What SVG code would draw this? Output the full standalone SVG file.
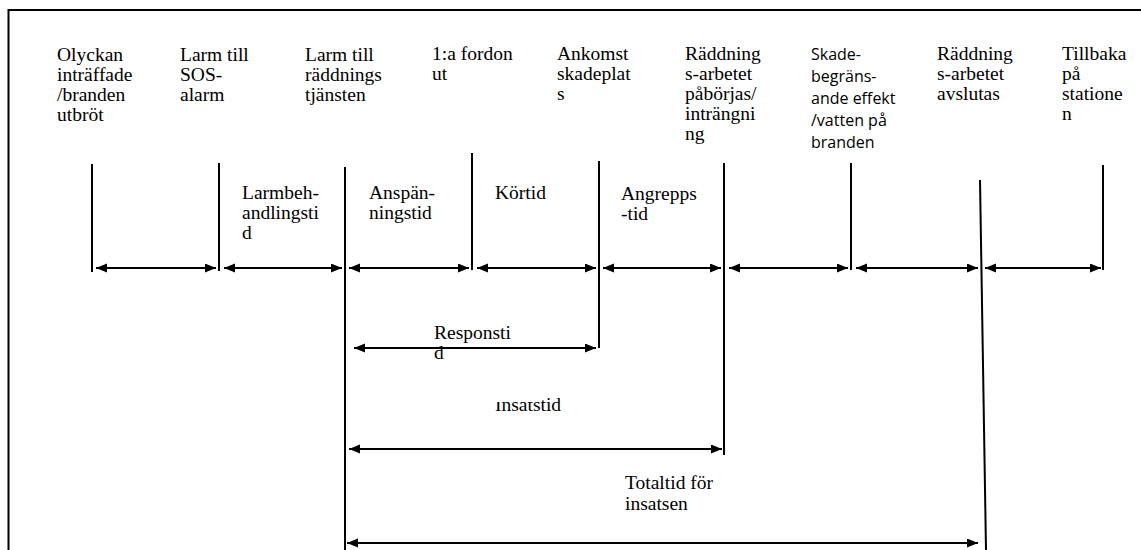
<svg xmlns="http://www.w3.org/2000/svg" width="1141" height="550" viewBox="0 0 1141 550">
<style>
.serif{font-family:"Liberation Serif","DejaVu Serif",serif;font-size:19.5px;fill:#000}
.sans{font-family:"Open Sans","Liberation Sans",sans-serif;font-size:16px;fill:#000}
.tick{stroke:#000;stroke-width:2;fill:none}
.arr{stroke:#000;stroke-width:2;fill:none;marker-start:url(#ah);marker-end:url(#ah)}
</style>
<defs>
<marker id="ah" markerUnits="userSpaceOnUse" markerWidth="12" markerHeight="10" refX="11" refY="4.5" orient="auto-start-reverse">
<path d="M0,0 L11,4.5 L0,9 z" fill="#000"/>
</marker>
<clipPath id="clipIns">
<rect x="480" y="402" width="53" height="30"/>
<rect x="533" y="380" width="50" height="52"/>
</clipPath>
</defs>
<rect x="8.5" y="10" width="1200" height="600" fill="#fff" stroke="#000" stroke-width="2"/>

<g id="connectors">
<line class="tick" x1="92" y1="164" x2="92" y2="272"/>
<line class="tick" x1="219" y1="163" x2="219" y2="271"/>
<line class="tick" x1="345" y1="167" x2="345" y2="550"/>
<line class="tick" x1="472" y1="153" x2="472" y2="270"/>
<line class="tick" x1="599" y1="161" x2="599" y2="348"/>
<line class="tick" x1="724" y1="163" x2="724" y2="455"/>
<line class="tick" x1="851" y1="163" x2="851" y2="270"/>
<line class="tick" x1="980" y1="180" x2="986" y2="550"/>
<line class="tick" x1="1103" y1="165" x2="1103" y2="270"/>

<line class="arr" x1="96" y1="268" x2="216" y2="268"/>
<line class="arr" x1="224" y1="268" x2="342" y2="268"/>
<line class="arr" x1="349" y1="268" x2="469" y2="268"/>
<line class="arr" x1="477" y1="268" x2="596" y2="268"/>
<line class="arr" x1="603" y1="268" x2="721" y2="268"/>
<line class="arr" x1="729" y1="268" x2="848" y2="268"/>
<line class="arr" x1="856" y1="268" x2="978" y2="268"/>
<line class="arr" x1="985" y1="268" x2="1101" y2="268"/>

<line class="arr" x1="354" y1="348" x2="596" y2="348"/>
<line class="arr" x1="349" y1="449" x2="722" y2="449"/>
<line class="arr" x1="347" y1="543" x2="978" y2="543"/>
</g>

<g id="n-olyckan"><text class="serif" x="57" y="61"><tspan x="57">Olyckan</tspan><tspan x="57" dy="20">inträffade</tspan><tspan x="57" dy="20">/branden</tspan><tspan x="57" dy="20">utbröt</tspan></text></g>
<g id="n-larm-sos"><text class="serif" x="180" y="61"><tspan x="180">Larm till</tspan><tspan x="180" dy="20">SOS-</tspan><tspan x="180" dy="20">alarm</tspan></text></g>
<g id="n-larm-rtj"><text class="serif" x="305" y="61"><tspan x="305">Larm till</tspan><tspan x="305" dy="20">räddnings</tspan><tspan x="305" dy="20">tjänsten</tspan></text></g>
<g id="n-fordon"><text class="serif" x="432" y="60"><tspan x="432">1:a fordon</tspan><tspan x="432" dy="20">ut</tspan></text></g>
<g id="n-ankomst"><text class="serif" x="557" y="60"><tspan x="557">Ankomst</tspan><tspan x="557" dy="20">skadeplat</tspan><tspan x="557" dy="20">s</tspan></text></g>
<g id="n-paborjas"><text class="serif" x="685" y="60"><tspan x="685">Räddning</tspan><tspan x="685" dy="20">s-arbetet</tspan><tspan x="685" dy="20">påbörjas/</tspan><tspan x="685" dy="20">inträngni</tspan><tspan x="685" dy="20">ng</tspan></text></g>
<g id="n-skade"><text class="sans" x="811" y="60"><tspan x="811">Skade-</tspan><tspan x="811" dy="22">begräns-</tspan><tspan x="811" dy="22">ande effekt</tspan><tspan x="811" dy="22">/vatten på</tspan><tspan x="811" dy="22">branden</tspan></text></g>
<g id="n-avslutas"><text class="serif" x="937" y="60"><tspan x="937">Räddning</tspan><tspan x="937" dy="20">s-arbetet</tspan><tspan x="937" dy="20">avslutas</tspan></text></g>
<g id="n-tillbaka"><text class="serif" x="1062" y="60"><tspan x="1062">Tillbaka</tspan><tspan x="1062" dy="20">på</tspan><tspan x="1062" dy="20">statione</tspan><tspan x="1062" dy="20">n</tspan></text></g>

<g id="n-larmbeh"><text class="serif" x="242" y="199"><tspan x="242">Larmbeh-</tspan><tspan x="242" dy="20">andlingsti</tspan><tspan x="242" dy="20">d</tspan></text></g>
<g id="n-anspan"><text class="serif" x="369" y="199"><tspan x="369">Anspän-</tspan><tspan x="369" dy="20">ningstid</tspan></text></g>
<g id="n-kortid"><text class="serif" x="495" y="199">Körtid</text></g>
<g id="n-angrepp"><text class="serif" x="621" y="200"><tspan x="621">Angrepps</tspan><tspan x="621" dy="20">-tid</tspan></text></g>

<g id="n-responstid"><text class="serif" x="434" y="339"><tspan x="434">Responsti</tspan><tspan x="434" dy="20">d</tspan></text></g>
<g id="n-insatstid"><text class="serif" x="495" y="411" clip-path="url(#clipIns)">Insatstid</text></g>
<g id="n-totaltid"><text class="serif" x="625" y="489"><tspan x="625">Totaltid för</tspan><tspan x="625" dy="21">insatsen</tspan></text></g>
</svg>
